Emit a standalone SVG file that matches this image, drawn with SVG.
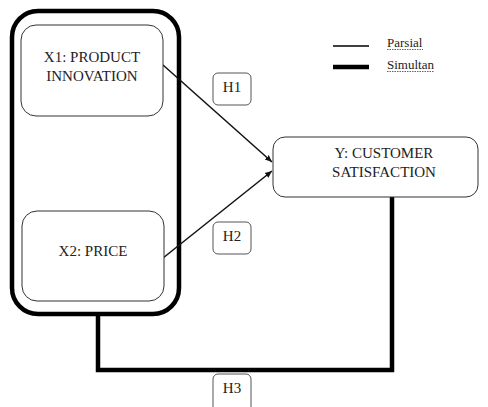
<svg xmlns="http://www.w3.org/2000/svg" width="488" height="407" viewBox="0 0 488 407" font-family="'Liberation Serif', 'Times New Roman', serif">
<style>
  text { font-family: "Liberation Serif", "Times New Roman", "DejaVu Serif", serif; fill: #222; }
  .node { fill: #fff; stroke: #333; stroke-width: 1; }
  .lbl { font-size: 15px; text-anchor: middle; }
  .hyp { fill: #fff; stroke: #555; stroke-width: 1; }
  .thin { stroke: #111; stroke-width: 1.5; fill: none; }
  .thick { stroke: #000; stroke-width: 4.5; fill: none; }
  .leg { font-size: 13px; }
  .spell { stroke: #e03030; stroke-width: 1; stroke-dasharray: 1.5 1; fill: none; }
</style>
<defs>
  <marker id="arr" markerWidth="8" markerHeight="8" refX="7" refY="4" orient="auto" markerUnits="userSpaceOnUse">
    <path d="M0,1 L7,4 L0,7 Z" fill="#111"/>
  </marker>
</defs>
<g id="group-x">
  <rect x="12" y="11" width="167" height="303" rx="26" ry="26" fill="#fff" stroke="#000" stroke-width="4.5"/>
</g>
<g id="connectors">
  <line class="thin" x1="163" y1="65" x2="272" y2="162" marker-end="url(#arr)"/>
  <line class="thin" x1="163" y1="258" x2="272" y2="171" marker-end="url(#arr)"/>
  <polyline class="thick" points="98,314 98,370 392,370 392,197"/>
</g>
<g id="x1">
  <rect class="node" x="21" y="25" width="142" height="91" rx="15" ry="15"/>
  <text class="lbl" x="92" y="62">X1: PRODUCT</text>
  <text class="lbl" x="92" y="81">INNOVATION</text>
</g>
<g id="x2">
  <rect class="node" x="22" y="211" width="142" height="90" rx="15" ry="15"/>
  <text class="lbl" x="93" y="256">X2: PRICE</text>
</g>
<g id="y">
  <rect class="node" x="273" y="137" width="205" height="60" rx="12" ry="12"/>
  <text class="lbl" x="384" y="158">Y: CUSTOMER</text>
  <text class="lbl" x="384" y="177">SATISFACTION</text>
</g>
<g id="h1">
  <rect class="hyp" x="213" y="73" width="38" height="32" rx="5" ry="5"/>
  <text class="lbl" x="232" y="92">H1</text>
</g>
<g id="h2">
  <rect class="hyp" x="213" y="222" width="38" height="32" rx="5" ry="5"/>
  <text class="lbl" x="232" y="241">H2</text>
</g>
<g id="h3">
  <rect class="hyp" x="213" y="374" width="38" height="40" rx="5" ry="5"/>
  <text class="lbl" x="232" y="393">H3</text>
</g>
<g id="legend">
  <line x1="333" y1="46" x2="369" y2="46" stroke="#000" stroke-width="1.5"/>
  <line x1="333" y1="67" x2="369" y2="67" stroke="#000" stroke-width="4.5"/>
  <text class="leg" x="387" y="47">Parsial</text>
  <text class="leg" x="387" y="69">Simultan</text>
  <path class="spell" d="M387,49.5 L423,49.5"/>
  <path class="spell" d="M387,71.5 L434,71.5"/>
</g>
</svg>
